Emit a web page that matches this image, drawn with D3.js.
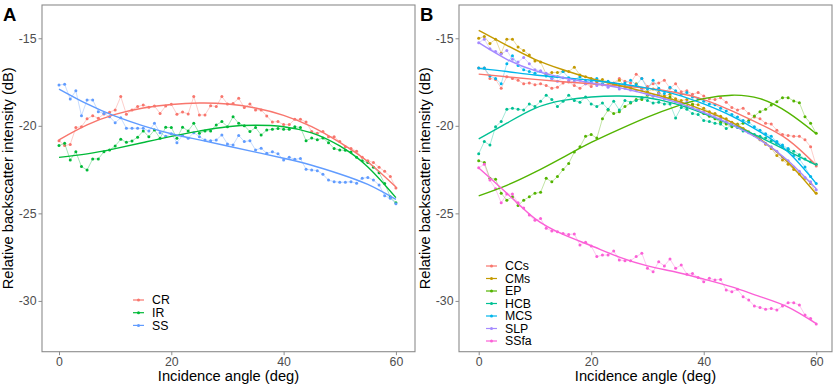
<!DOCTYPE html>
<html>
<head>
<meta charset="utf-8">
<script src="https://cdn.jsdelivr.net/npm/d3@7"></script>
<style>
body { margin: 0; background: #fff; }
svg { display: block; font-family: Arial, "Liberation Sans", sans-serif; }
</style>
</head>
<body>
<svg width="837" height="388"></svg>
<script>
var angles = [0,1,2,3,4,5,6,7,8,9,10,11,12,13,14,15,16,17,18,19,20,21,22,23,24,25,26,27,28,29,30,
  31,32,33,34,35,36,37,38,39,40,41,42,43,44,45,46,47,48,49,50,51,52,53,54,55,56,57,58,59,60];
var fitAngles = [0,5,10,15,20,25,30,35,40,45,50,55,60];

var xTicks = [0, 20, 40, 60];
var yTicks = [-15, -20, -25, -30];

// panel A
var namesA = ["CR", "IR", "SS"];
var cr = [-20.85,-21.13,-21.06,-20.1,-20.05,-19.6,-19.42,-19.57,-19.32,-19.22,-19.09,-18.33,-19.34,-19.09,-18.9,-18.81,
  -18.94,-18.87,-19.29,-18.87,-18.77,-19.34,-19.21,-19.32,-18.33,-19.38,-19.38,-18.85,-18.9,-18.33,-18.75,-18.72,
  -18.43,-18.96,-18.75,-19.09,-19.09,-19.44,-19.78,-19.76,-19.93,-19.93,-19.63,-19.63,-19.78,-20.33,-20.43,-20.33,
  -20.62,-20.62,-20.9,-21.2,-21.3,-21.45,-21.8,-21.99,-22.1,-22.37,-22.6,-22.9,-23.55];
var ir = [-21.13,-21.0,-21.95,-21.48,-22.33,-22.52,-21.89,-21.89,-21.48,-21.38,-21.15,-20.77,-20.94,-20.86,-20.65,-20.29,
  -20.62,-20.24,-20.71,-20.08,-20.1,-20.71,-20.08,-20.29,-19.86,-20.43,-20.29,-20.29,-19.95,-19.76,-20.05,-19.48,
  -19.86,-19.99,-20.33,-20.1,-20.52,-20.24,-20.2,-20.15,-20.2,-20.2,-20.05,-20.1,-20.85,-20.7,-20.8,-20.7,
  -20.96,-21.3,-21.38,-21.4,-21.5,-21.8,-22.0,-22.1,-22.37,-22.68,-23.3,-24.05,-24.4];
var ss = [-17.67,-17.63,-18.47,-18.0,-19.42,-18.52,-18.52,-19.19,-19.29,-19.48,-19.82,-19.54,-20.14,-20.14,-20.14,-20.14,
  -20.3,-19.86,-20.4,-20.6,-20.45,-20.96,-20.55,-20.71,-20.39,-20.62,-20.81,-20.85,-20.81,-20.52,-21.04,-21.09,
  -20.55,-20.9,-20.85,-21.38,-21.28,-21.57,-21.48,-21.6,-21.95,-21.8,-21.91,-21.87,-22.48,-22.52,-22.56,-22.77,
  -23.1,-23.19,-23.22,-23.22,-23.19,-23.28,-23.0,-22.95,-23.1,-23.38,-23.99,-24.14,-24.45];
var crFit = [-20.8,-19.95,-19.35,-18.98,-18.78,-18.7,-18.75,-18.98,-19.4,-20.05,-20.95,-22.05,-23.5];
var irFit = [-21.8,-21.6,-21.3,-20.95,-20.6,-20.3,-20.05,-19.97,-20.05,-20.4,-21.15,-22.35,-24.1];
var ssFit = [-17.9,-18.75,-19.45,-20.0,-20.45,-20.8,-21.15,-21.5,-21.85,-22.25,-22.75,-23.35,-24.2];

// panel B
var namesB = ["CCs", "CMs", "EP", "HCB", "MCS", "SLP", "SSfa"];
var ccs = [-16.7,-16.7,-17.3,-17.35,-17.85,-17.2,-17.3,-17.4,-17.6,-17.55,-17.65,-17.6,-17.7,-17.85,-17.8,-17.55,
  -17.5,-17.7,-17.85,-17.6,-17.75,-17.5,-17.65,-17.7,-17.55,-17.3,-17.45,-17.55,-17.05,-17.3,-17.75,-17.6,
  -17.55,-17.4,-17.85,-17.6,-18.05,-18.0,-18.2,-18.1,-18.3,-18.45,-18.5,-18.4,-18.65,-18.95,-19.1,-19.0,
  -19.3,-19.5,-19.6,-19.85,-19.9,-20.25,-20.5,-20.55,-20.6,-20.6,-20.8,-21.2,-22.3];
var cms = [-15.0,-14.9,-15.3,-15.05,-15.85,-15.05,-15.05,-15.5,-15.7,-15.95,-16.3,-16.35,-17.05,-16.95,-16.95,-16.9,
  -16.9,-16.65,-17.1,-17.2,-17.3,-17.45,-17.35,-17.5,-17.6,-17.4,-17.75,-17.8,-17.6,-17.85,-18.05,-17.9,
  -18.1,-18.3,-18.2,-18.45,-18.55,-18.5,-18.75,-18.8,-19.0,-19.2,-19.3,-19.45,-19.6,-19.8,-19.9,-20.15,
  -20.35,-20.55,-20.8,-21.05,-21.3,-21.7,-21.95,-22.2,-22.5,-22.75,-23.0,-23.3,-23.85];
var ep = [-22.0,-22.1,-23.0,-23.05,-23.85,-24.25,-24.05,-24.55,-24.25,-24.05,-23.85,-23.8,-23.0,-23.2,-22.9,-22.5,
  -22.15,-21.5,-21.2,-20.6,-20.5,-20.7,-19.6,-19.1,-19.3,-19.2,-18.9,-18.7,-18.5,-18.5,-18.25,-18.3,
  -18.15,-18.45,-18.35,-18.6,-18.7,-18.9,-18.8,-19.1,-19.3,-19.45,-19.6,-19.8,-19.9,-20.05,-19.95,-19.85,
  -19.7,-19.44,-19.19,-19.06,-18.81,-18.62,-18.39,-18.39,-18.58,-18.68,-19.48,-19.86,-20.43];
var hcb = [-21.6,-20.9,-21.1,-20.05,-19.75,-19.05,-19.0,-19.05,-19.1,-18.75,-18.9,-18.6,-18.25,-18.5,-18.9,-18.6,
  -18.25,-18.55,-18.65,-18.35,-18.75,-18.9,-18.7,-19.05,-18.6,-19.1,-18.55,-18.65,-18.55,-18.4,-18.55,-18.7,
  -18.65,-18.75,-18.75,-19.55,-18.95,-19.05,-19.3,-19.35,-19.7,-19.75,-19.85,-19.9,-20.15,-19.95,-20.1,-20.3,
  -20.35,-20.5,-20.6,-20.7,-20.85,-21.0,-21.2,-21.35,-21.45,-21.65,-21.9,-22.05,-22.2];
var mcs = [-16.7,-16.7,-17.15,-17.3,-17.6,-16.45,-16.0,-16.55,-16.8,-16.9,-17.0,-16.9,-17.15,-17.3,-17.2,-16.9,
  -17.25,-17.35,-17.2,-17.45,-17.5,-17.3,-17.6,-17.45,-17.6,-17.7,-17.55,-17.4,-17.65,-17.3,-17.9,-17.4,
  -17.85,-18.15,-17.8,-18.0,-18.2,-18.1,-18.35,-18.45,-18.6,-18.75,-18.8,-19.0,-19.15,-19.35,-19.5,-19.7,
  -19.8,-20.05,-20.25,-20.45,-20.6,-20.9,-21.1,-21.3,-21.7,-21.9,-22.35,-22.9,-23.3];
var slp = [-15.25,-15.05,-15.6,-15.75,-15.9,-15.7,-16.2,-16.35,-16.1,-16.45,-16.8,-16.85,-17.0,-17.3,-17.45,-17.25,
  -17.4,-17.5,-17.4,-17.6,-17.55,-17.7,-17.65,-17.8,-17.7,-17.9,-17.85,-17.95,-18.0,-17.95,-18.2,-18.3,
  -18.15,-18.45,-18.5,-18.6,-18.7,-18.65,-18.95,-19.1,-19.2,-19.35,-19.4,-19.6,-19.75,-19.85,-20.0,-20.2,
  -20.4,-20.55,-20.75,-21.0,-21.2,-21.45,-21.8,-22.0,-22.35,-22.6,-22.95,-23.2,-23.65];
var ssfa = [-22.4,-22.2,-23.1,-23.6,-24.4,-23.9,-23.9,-24.4,-24.7,-25.1,-25.4,-25.3,-25.85,-26.0,-26.05,-26.15,
  -26.2,-26.18,-26.8,-26.65,-26.86,-27.47,-27.38,-27.38,-27.15,-27.66,-27.7,-27.7,-27.47,-27.28,-28.14,-28.33,
  -27.76,-28.0,-27.61,-28.14,-27.95,-28.47,-28.43,-28.66,-28.9,-28.71,-28.8,-28.77,-29.38,-29.47,-29.34,-29.76,
  -29.95,-30.29,-30.37,-30.48,-30.43,-30.52,-30.29,-30.1,-30.1,-30.24,-30.81,-31.0,-31.32];
var ccsFit = [-17.05,-17.2,-17.35,-17.48,-17.6,-17.72,-17.85,-18.1,-18.5,-19.15,-19.9,-20.8,-22.25];
var cmsFit = [-14.55,-15.4,-16.2,-16.8,-17.3,-17.7,-18.1,-18.55,-19.1,-19.8,-20.75,-22.1,-23.9];
var epFit = [-24.0,-23.4,-22.65,-21.8,-20.95,-20.2,-19.5,-18.9,-18.45,-18.25,-18.45,-19.25,-20.45];
var hcbFit = [-20.75,-19.85,-19.0,-18.55,-18.35,-18.3,-18.4,-18.75,-19.3,-19.95,-20.65,-21.45,-22.25];
var mcsFit = [-16.72,-16.9,-17.1,-17.25,-17.4,-17.6,-17.85,-18.2,-18.75,-19.45,-20.35,-21.5,-23.3];
var slpFit = [-15.25,-16.2,-16.85,-17.25,-17.55,-17.82,-18.2,-18.65,-19.25,-19.95,-20.8,-22.0,-23.6];
var ssfaFit = [-22.4,-23.85,-25.3,-26.2,-26.85,-27.5,-28.0,-28.35,-28.75,-29.2,-29.75,-30.35,-31.3];

var coloursA = ["#F8766D", "#00BA38", "#619CFF"];
var coloursB = ["#F8766D", "#C49A00", "#53B400", "#00C094", "#00B6EB", "#A58AFF", "#FB61D7"];

var svg = d3.select("svg");
var plotTop = 5, plotBottom = 351.7;

var y = d3.scaleLinear().domain([-32.9, -13.1]).range([plotBottom, plotTop]);

function drawPanel(p) {
  var x = d3.scaleLinear().domain(p.xDomain).range([p.left, p.right]);
  var g = svg.append("g");

  var obsLine = d3.line()
    .x(function(d, i) { return x(angles[i]); })
    .y(function(d) { return y(d); });
  var fitLine = d3.line()
    .x(function(d, i) { return x(fitAngles[i]); })
    .y(function(d) { return y(d); })
    .curve(d3.curveNatural);

  p.series.forEach(function(s, k) {
    var c = p.colours[k];
    g.append("path")
      .attr("d", obsLine(s))
      .attr("fill", "none")
      .attr("stroke", c)
      .attr("stroke-opacity", 0.45)
      .attr("stroke-width", 0.8);
    g.append("g").selectAll("circle")
      .data(s)
      .enter().append("circle")
        .attr("cx", function(d, i) { return x(angles[i]); })
        .attr("cy", function(d) { return y(d); })
        .attr("r", 1.5)
        .attr("fill", c);
  });
  p.fits.forEach(function(f, k) {
    g.append("path")
      .attr("d", fitLine(f))
      .attr("fill", "none")
      .attr("stroke", p.colours[k])
      .attr("stroke-width", 1.4);
  });

  // border
  svg.append("rect")
    .attr("x", p.left)
    .attr("y", plotTop)
    .attr("width", p.right - p.left)
    .attr("height", plotBottom - plotTop)
    .attr("fill", "none")
    .attr("stroke", "#8c8c8c")
    .attr("stroke-width", 1.1);

  var xAxis = svg.append("g")
    .attr("transform", "translate(0," + plotBottom + ")")
    .call(d3.axisBottom(x).tickValues(xTicks).tickSize(3.5).tickPadding(2));
  var yAxis = svg.append("g")
    .attr("transform", "translate(" + p.left + ",0)")
    .call(d3.axisLeft(y).tickValues(yTicks).tickSize(3.5).tickPadding(2).tickFormat(d3.format("d")));
  [xAxis, yAxis].forEach(function(a) {
    a.select(".domain").remove();
    a.selectAll("line").attr("stroke", "#8c8c8c");
    a.selectAll("text")
      .attr("fill", "#4d4d4d")
      .attr("font-size", "12.3px")
      .attr("font-family", "Arial, 'Liberation Sans', sans-serif");
  });
  yAxis.selectAll("text").text(function(d) { return "-" + Math.abs(d); });

  svg.append("text")
    .attr("x", (p.left + p.right) / 2)
    .attr("y", 380.5)
    .attr("text-anchor", "middle")
    .attr("font-size", "14.7px")
    .attr("fill", "#000")
    .text("Incidence angle (deg)");
  svg.append("text")
    .attr("transform", "translate(" + (p.left - 29) + "," + ((plotTop + plotBottom) / 2) + ") rotate(-90)")
    .attr("text-anchor", "middle")
    .attr("font-size", "14.7px")
    .attr("fill", "#000")
    .text("Relative backscatter intensity (dB)");

  svg.append("text")
    .attr("x", p.left - 39)
    .attr("y", 20.5)
    .attr("font-size", "18.5px")
    .attr("font-weight", "bold")
    .text(p.label);

  var legend = svg.append("g")
    .attr("font-size", "12.3px")
    .selectAll("g")
    .data(p.names)
    .enter().append("g")
      .attr("transform", function(d, i) { return "translate(" + p.legendX + "," + (p.legendY + i * p.legendStep) + ")"; });
  legend.append("line")
    .attr("x1", 0).attr("x2", 11)
    .attr("stroke", function(d, i) { return p.colours[i]; })
    .attr("stroke-width", 1.2);
  legend.append("circle")
    .attr("cx", 5.5)
    .attr("r", 1.5)
    .attr("fill", function(d, i) { return p.colours[i]; });
  legend.append("text")
    .attr("x", 19)
    .attr("dy", "0.36em")
    .attr("fill", "#000")
    .text(function(d) { return d; });
}

drawPanel({
  label: "A", left: 42, right: 415, xDomain: [-3.03, 63.4],
  names: namesA, colours: coloursA,
  series: [cr, ir, ss], fits: [crFit, irFit, ssFit],
  legendX: 133, legendY: 300, legendStep: 12.7
});
drawPanel({
  label: "B", left: 459, right: 832, xDomain: [-3.5, 62.8],
  names: namesB, colours: coloursB,
  series: [ccs, cms, ep, hcb, mcs, slp, ssfa], fits: [ccsFit, cmsFit, epFit, hcbFit, mcsFit, slpFit, ssfaFit],
  legendX: 486, legendY: 266, legendStep: 12.5
});
</script>
</body>
</html>
